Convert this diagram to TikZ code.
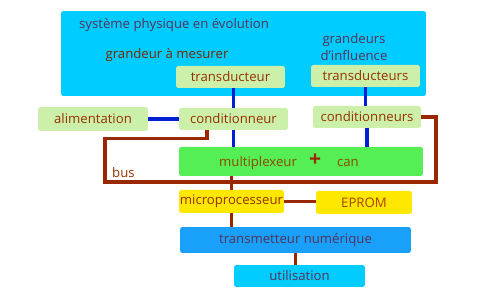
\documentclass[tikz,border=0pt]{standalone}
\usepackage{fontspec}
\setmainfont{Open Sans}
\usepackage{tikz}
\usetikzlibrary{positioning}
\definecolor{syscyan}{RGB}{0,204,255}
\definecolor{palegreen}{RGB}{204,240,170}
\definecolor{muxgreen}{RGB}{85,238,85}
\definecolor{chipyellow}{RGB}{255,232,0}
\definecolor{transblue}{RGB}{25,160,250}
\definecolor{wireblue}{RGB}{0,30,210}
\definecolor{busbrown}{RGB}{153,40,0}
\definecolor{boxtext}{RGB}{150,50,0}
\definecolor{cyantext}{RGB}{85,50,90}

\begin{document}
\begin{tikzpicture}[x=0.02cm, y=-0.02cm, font=\fontsize{7.5}{9}\selectfont,
    box/.style={rectangle, rounded corners=1pt, inner sep=0pt, text=boxtext},
    sensor/.style={box, fill=palegreen, minimum width=2.18cm, minimum height=0.44cm},
    chip/.style={box, fill=chipyellow, minimum height=0.46cm},
    wire/.style={wireblue, line width=1.9pt},
    busline/.style={busbrown, line width=1.9pt}]
    \useasboundingbox (0,0) rectangle (500,300);
    % Physical system
    \node[box, fill=syscyan, minimum width=7.3cm, minimum height=1.7cm] (sys) at (243.5,53.5) {};
    \node[anchor=west, text=cyantext] (systxt) at (73,25) {système physique en évolution};
    \node[text=boxtext!80!black] (mestxt) at (167,55) {grandeur à mesurer};
    \node[align=center, text=cyantext] (inftxt) at (354,47) {grandeurs\\[1pt]d'influence};
    % Sensors and conditioners
    \node[sensor] (tr1) at (230.5,77) {transducteur};
    \node[sensor] (tr2) at (365.5,76) {transducteurs};
    \node[sensor, minimum width=2.2cm, minimum height=0.48cm] (alim) at (93,119) {alimentation};
    \node[sensor] (cond1) at (233.5,119) {conditionneur};
    \node[sensor, minimum width=2.16cm] (cond2) at (367,117) {conditionneurs};
    % Acquisition chain
    \node[box, fill=muxgreen, minimum width=4.88cm, minimum height=0.58cm] (mux) at (301,161.5) {};
    \node[text=boxtext!70!olive] (muxtxt) at (289,162) {multiplexeur\hspace{7pt}{\color{busbrown}\textbf{\large +}}\hspace{9pt}can};
    \node[chip, minimum width=2.1cm] (micro) at (231.5,201.5) {microprocesseur};
    \node[chip, minimum width=1.92cm, text=boxtext!80!orange] (eprom) at (364,202.5) {EPROM};
    \node[box, fill=transblue, minimum width=4.62cm, minimum height=0.52cm, text=cyantext] (trans) at (295.5,240) {transmetteur numérique};
    \node[box, fill=syscyan, minimum width=2.62cm, minimum height=0.44cm, text=cyantext] (util) at (299.5,276) {utilisation};
    \node[anchor=west, text=boxtext] (buslbl) at (106,173) {bus};
    % Signal wires
    \draw[wire] (cond1.north |- tr1.south) -- (cond1.north);
    \draw[wire] (cond1.south) -- (cond1.south |- mux.north);
    \draw[wire] (tr2.south) -- (tr2.south |- cond2.north);
    \draw[wire] (cond2.south) -- (cond2.south |- mux.north);
    \draw[wire] (alim.east) -- (cond1.west);
    % Bus
    \coordinate (busL) at (105,182);
    \coordinate (busR) at (436,182);
    \draw[busline] ([xshift=-0.53cm]cond1.south) -- ++(0,8) -| (busL) -- (busR) |- (cond2.east);
    \draw[busline] (micro.north |- mux.south) -- (micro.north);
    \draw[busline] (micro.south) -- (micro.south |- trans.north);
    \draw[busline] (micro.east) -- (micro.east -| eprom.west);
    \draw[busline] (trans.south) -- (trans.south |- util.north);
\end{tikzpicture}
\end{document}
